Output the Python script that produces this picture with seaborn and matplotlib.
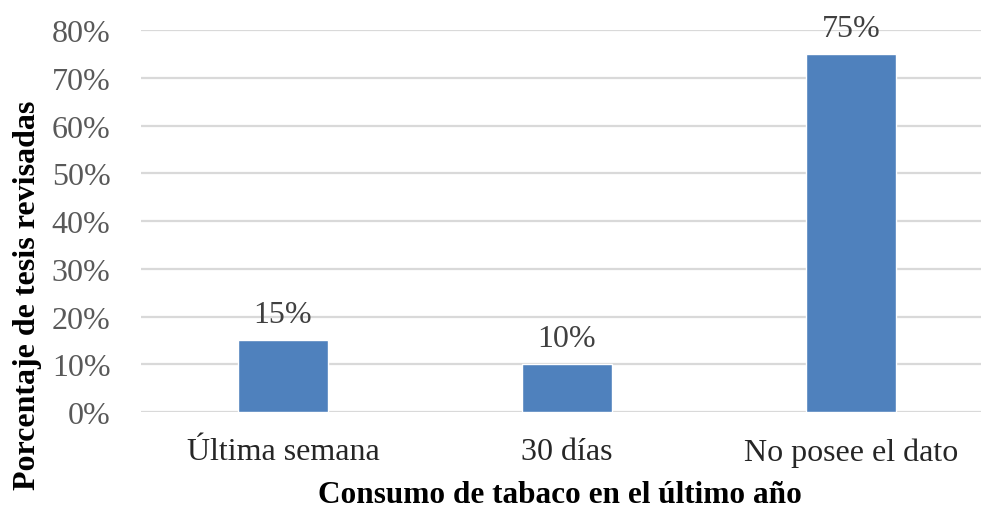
import matplotlib
matplotlib.use("Agg")
import matplotlib.pyplot as plt
import seaborn as sns
import pandas as pd
from matplotlib.ticker import PercentFormatter

categorias = ["Última semana", "30 días", "No posee el dato"]
porcentajes = [15, 10, 75]
ticks_y = [0, 10, 20, 30, 40, 50, 60, 70, 80]

sns.set_theme(style="white")
plt.rcParams["font.family"] = ["Liberation Serif", "DejaVu Serif"]

df = pd.DataFrame({"categoria": categorias, "porcentaje": porcentajes})

fig = plt.figure(figsize=(9.81, 5.10), dpi=100)
ax = fig.add_axes([0.1437, 0.190, 1.0 - 0.1437, 0.939 - 0.190])

sns.barplot(data=df, x="categoria", y="porcentaje", color="#4F81BD",
            saturation=1, width=0.317, ax=ax, zorder=3)

ax.set_ylim(0, 80)
ax.set_xlim(-0.5, 2.458)
ax.set_yticks(ticks_y)
ax.yaxis.set_major_formatter(PercentFormatter(decimals=0))
ax.grid(axis="y", color="#D9D9D9", linewidth=1.6, zorder=0)
ax.grid(axis="x", visible=False)
for s in ax.spines.values():
    s.set_visible(False)

ax.tick_params(axis="y", labelsize=23, labelcolor="#595959", length=0, pad=22)
ax.tick_params(axis="x", labelsize=23, labelcolor="#262626", length=0, pad=18)

for i, v in enumerate(porcentajes):
    ax.annotate(f"{v}%", (i, v), xytext=(0, 8), textcoords="offset points",
                ha="center", va="bottom", fontsize=23, color="#404040")

ax.set_xlabel("Consumo de tabaco en el último año", fontsize=22.5,
              fontweight="bold", color="black")
ax.set_ylabel("Porcentaje de tesis revisadas", fontsize=23,
              fontweight="bold", color="black")
ax.xaxis.set_label_coords((560 - 141) / (981 - 141), -(481 - 413) / (413 - 31))
ax.yaxis.set_label_coords(-(141 - 42) / (981 - 141), (413 - 295) / (413 - 31))

fig.savefig("out.png", dpi=100)
